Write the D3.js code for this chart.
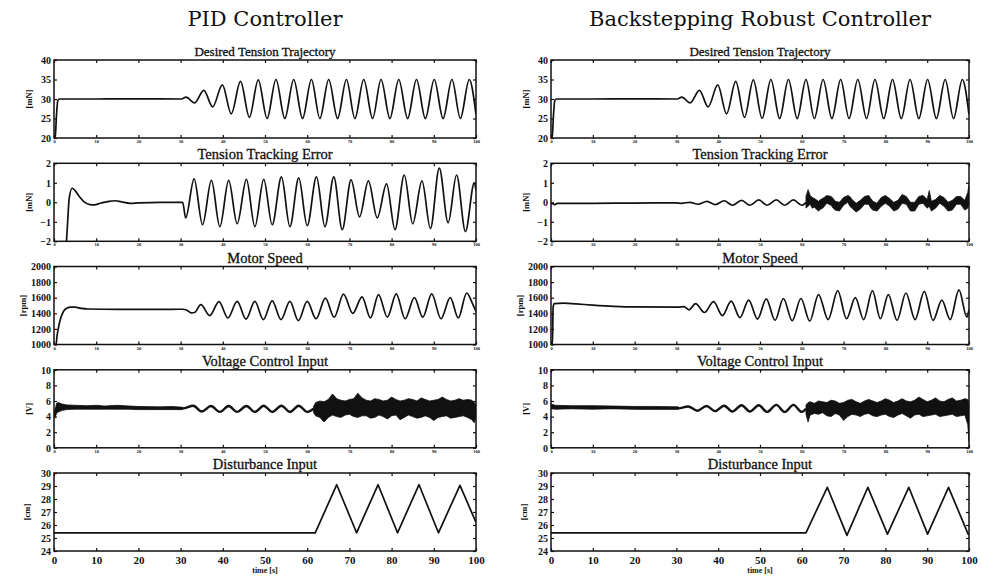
<!DOCTYPE html>
<html><head><meta charset="utf-8">
<script src="https://cdn.jsdelivr.net/npm/d3@7"></script>
<style>body{margin:0;background:#fff}svg{display:block}</style>
</head><body>
<svg id="c" width="982" height="579"></svg>
<script>
// ---------------- DATA ----------------
const columnTitles = ["PID Controller", "Backstepping Robust Controller"];
const panelTitles = ["Desired Tension Trajectory", "Tension Tracking Error", "Motor Speed", "Voltage Control Input", "Disturbance Input"];
const unitLabels = ["[mN]", "[mN]", "[rpm]", "[V]", "[cm]"];
const yDomains = [[20, 40], [-2, 2], [1000, 2000], [0, 10], [24, 30]];
const yTicks = [[20, 25, 30, 35, 40], [-2, -1, 0, 1, 2], [1000, 1200, 1400, 1600, 1800, 2000], [0, 2, 4, 6, 8, 10], [24, 25, 26, 27, 28, 29, 30]];
const xTicks = [0, 10, 20, 30, 40, 50, 60, 70, 80, 90, 100];
const xLabel = "time [s]";

// desired tension (same reference for both controllers) [t, mN]
const desiredTension = [[0,20],[0.3,20.5],[0.6,26],[0.9,29.6],[1.3,30],[10,30],[20,30.05],[30.2,30],[31.3,30.5],[33.3,29.0],[35.5,32.2],[37.6,28.0],[39.9,33.6],[42.0,26.2],[44.2,34.5],[46.3,25.3],[48.4,34.9],[50.5,25.0],[52.6,35],[54.7,25],[56.8,35],[58.9,25],[61.0,35],[63.0,25],[65.1,35],[67.2,25],[69.3,35],[71.3,25],[73.4,35],[75.5,25],[77.5,35],[79.6,25],[81.7,35],[83.8,25],[85.9,35],[88.0,25],[90.1,35],[92.2,25],[94.3,35],[96.3,25],[98.4,35],[100,26]];

// tension tracking error [t, mN]
const pidError = [[0,-2.6],[2.7,-2.6],[3.1,-1.5],[3.6,0.2],[4.3,0.72],[5.0,0.6],[6.0,0.3],[7.0,0.05],[8.5,-0.12],[9.5,-0.13],[11,-0.05],[13,0.05],[14.5,0.08],[16,0.02],[18,-0.05],[20,-0.03],[25,0.0],[30.5,0.0],[31.2,-0.8],[33.2,1.2],[35.2,-1.15],[37.3,1.12],[39.3,-1.25],[41.4,1.12],[43.4,-1.1],[45.6,1.18],[47.6,-1.25],[49.7,1.18],[51.7,-1.15],[53.9,1.3],[55.9,-1.25],[58.0,1.25],[60.0,-1.2],[62.2,1.3],[64.2,-1.25],[66.3,1.3],[68.3,-1.4],[70.4,1.15],[72.4,-0.75],[74.5,1.1],[76.6,-0.8],[78.8,0.95],[80.8,-1.4],[83.0,1.4],[85.0,-1.1],[87.2,1.1],[89.2,-1.35],[91.3,1.75],[93.4,-1.05],[95.4,1.4],[97.5,-1.5],[99.6,1.0],[100,0.6]];
const brcError = [[0,-0.1],[0.4,-0.05],[0.8,-0.12],[1.5,-0.05],[10,-0.05],[20,-0.04],[30,-0.03],[31.2,-0.05],[33.2,0.0],[35.2,-0.1],[37.3,0.05],[39.3,-0.12],[41.4,0.08],[43.4,-0.15],[45.6,0.1],[47.6,-0.15],[49.7,0.12],[51.7,-0.15],[53.9,0.12],[55.9,-0.15],[58.0,0.12],[60.0,-0.15],[61,0.0]];
// noisy envelope [t, low, high]
const brcErrorBand = [[61,-0.3,0.3],[61.5,-0.2,0.65],[62,-0.1,0.35],[62.5,-0.3,0.25],[63,-0.25,0.2],[64,-0.45,0.05],[64.5,-0.35,0.15],[65,-0.3,0.2],[66,-0.05,0.35],[67,-0.15,0.3],[67.5,-0.3,0.2],[68,-0.4,0.05],[69,-0.45,0.0],[70,-0.15,0.25],[71,0.0,0.35],[71.5,-0.2,0.3],[72,-0.3,0.15],[73,-0.5,-0.05],[74,-0.35,0.1],[75,-0.1,0.3],[76,-0.1,0.35],[76.5,-0.3,0.2],[77,-0.4,0.05],[78,-0.45,-0.05],[79,-0.2,0.25],[80,-0.05,0.35],[81,-0.2,0.2],[82,-0.45,0.0],[83,-0.35,0.1],[84,-0.05,0.4],[85,-0.1,0.3],[86,-0.45,0.0],[87,-0.45,0.0],[88,-0.1,0.3],[89,-0.05,0.35],[90,-0.3,0.15],[90.5,-0.2,0.6],[91,-0.45,0.05],[92,-0.3,0.15],[93,-0.05,0.35],[94,-0.2,0.25],[95,-0.45,0.0],[96,-0.4,0.1],[97,-0.1,0.3],[98,-0.1,0.3],[99,-0.4,0.1],[99.7,-0.3,0.5],[100,-0.1,0.9]];

// motor speed [t, rpm]
const pidSpeed = [[0,1000],[0.5,1000],[0.7,1100],[1.0,1200],[1.5,1320],[2.2,1420],[3.0,1465],[4.0,1480],[5.0,1478],[6.5,1462],[8,1455],[15,1450],[25,1450],[30.5,1452],[31.5,1440],[32.5,1405],[33.3,1410],[34.8,1510],[36.9,1370],[39.1,1550],[41.2,1340],[43.4,1552],[45.5,1325],[47.6,1552],[49.6,1320],[51.7,1560],[53.8,1320],[55.9,1552],[57.9,1305],[60.0,1552],[62.1,1330],[64.3,1595],[66.4,1350],[68.6,1645],[70.8,1400],[73.0,1610],[75.0,1340],[76.9,1640],[79.0,1350],[81.1,1648],[83.2,1330],[85.4,1600],[87.4,1350],[89.5,1648],[91.7,1330],[93.9,1600],[95.8,1340],[97.8,1660],[99.2,1520],[100,1420]];
const brcSpeed = [[0,1000],[0.35,1000],[0.5,1480],[0.8,1525],[3,1530],[6,1520],[10,1505],[15,1490],[20,1482],[30.5,1480],[31.8,1485],[33.0,1445],[34.6,1525],[36.7,1410],[38.9,1550],[41.0,1370],[43.1,1555],[45.2,1345],[47.3,1570],[49.4,1325],[51.5,1585],[53.6,1310],[55.6,1590],[57.7,1305],[59.8,1590],[61.9,1300],[64.0,1640],[66.3,1320],[68.6,1690],[70.7,1330],[72.8,1600],[74.8,1320],[76.9,1690],[78.8,1330],[80.7,1640],[82.8,1310],[84.9,1660],[87.1,1320],[89.3,1680],[91.4,1310],[93.5,1570],[95.5,1320],[97.6,1700],[99.5,1350],[100,1450]];

// voltage control input [t, V]
const pidVoltage = [[0,3.8],[0.2,4.3],[0.5,5.0],[1,5.2],[10,5.15],[20,5.1],[30.5,5.05],[33,5.4],[35,4.65],[37.2,5.35],[39.3,4.6],[41.4,5.35],[43.4,4.6],[45.6,5.35],[47.6,4.6],[49.7,5.4],[51.7,4.6],[53.9,5.4],[55.9,4.6],[58.0,5.4],[60.0,4.6],[61.5,5.0]];
const pidVoltageBand = [[0.3,4.0,4.9],[0.6,4.4,5.7],[1,4.6,5.8],[2,4.8,5.6],[3,4.9,5.5],[5,4.95,5.45],[8,4.95,5.4],[10,4.95,5.45],[12,4.95,5.35],[15,4.95,5.45],[18,4.95,5.35],[20,4.9,5.3],[25,4.9,5.25],[28,4.9,5.3],[30.5,4.9,5.2],[null,null,null],[61.5,4.5,5.3],[62,4.1,5.8],[63,3.9,6.0],[64,3.3,5.9],[65,3.9,6.2],[66,4.2,6.9],[67,4.0,6.3],[68,3.9,6.1],[69,4.2,6.0],[70,4.3,6.2],[71,4.0,6.3],[72,3.9,7.0],[73,4.1,6.4],[74,4.1,6.1],[75,3.8,6.0],[76,3.9,6.3],[77,4.2,6.2],[78,4.0,6.0],[79,3.7,6.1],[80,4.1,6.5],[81,4.2,6.2],[82,3.6,6.0],[83,3.9,6.1],[84,4.2,6.3],[85,4.0,6.2],[86,3.8,6.0],[87,3.9,6.4],[88,4.1,6.2],[89,3.9,6.0],[90,3.5,6.1],[91,3.9,6.2],[92,4.0,6.5],[93,4.1,6.2],[94,3.8,6.0],[95,3.9,6.1],[96,4.0,6.3],[97,4.1,6.1],[98,3.9,6.2],[99,3.6,6.1],[99.6,3.2,5.8],[100,4.0,5.5]];
const brcVoltage = [[0,5.5],[0.3,5.3],[1,5.2],[10,5.15],[20,5.1],[30.5,5.05],[32.8,5.3],[35,4.75],[37.2,5.35],[39.3,4.7],[41.4,5.4],[43.4,4.65],[45.6,5.45],[47.6,4.65],[49.7,5.45],[51.7,4.6],[53.9,5.5],[55.9,4.6],[58.0,5.5],[60.0,4.6],[61,5.0]];
const brcVoltageBand = [[0,5.0,5.6],[1,4.95,5.45],[5,5.0,5.4],[10,4.95,5.4],[15,5.0,5.35],[20,4.95,5.3],[25,4.95,5.3],[30.5,4.95,5.25],[null,null,null],[61,4.3,5.5],[61.5,3.3,5.8],[62,4.2,5.9],[63,4.4,5.7],[64,4.3,6.0],[65,4.5,5.9],[66,4.1,5.8],[67,4.0,6.1],[68,4.4,6.0],[69,4.2,5.7],[70,3.5,5.8],[71,4.0,6.1],[72,4.3,6.2],[73,4.2,5.9],[74,4.0,5.7],[75,4.3,6.0],[76,4.4,6.2],[77,4.1,6.0],[78,4.0,5.8],[79,4.2,6.0],[80,4.3,6.3],[81,4.0,6.1],[82,3.9,5.8],[83,4.2,6.0],[84,4.4,6.3],[85,4.1,6.0],[86,3.8,5.9],[87,4.2,6.1],[88,4.3,6.5],[89,4.0,6.2],[90,4.1,5.9],[91,4.2,6.1],[92,4.3,6.4],[93,4.0,6.0],[94,4.1,5.9],[95,4.2,6.2],[96,4.3,6.4],[97,4.0,6.0],[98,4.1,6.1],[99,4.2,6.3],[99.7,3.0,6.2],[100,0.8,5.5]];

// disturbance input [t, cm]
const pidDisturbance = [[0,25.4],[61.9,25.4],[67.0,29.1],[71.7,25.4],[76.8,29.1],[81.4,25.4],[86.5,29.1],[91.1,25.4],[96.2,29.05],[100,26.2]];
const brcDisturbance = [[0,25.4],[61.0,25.4],[66.1,28.9],[70.8,25.2],[75.8,28.9],[80.5,25.3],[85.6,28.9],[90.1,25.3],[95.1,28.9],[99.8,25.3],[100,25.3]];

// table of panels built from the arrays above
const columns = [
  [{line: desiredTension, curve: true}, {line: pidError, curve: true}, {line: pidSpeed, curve: true}, {line: pidVoltage, band: pidVoltageBand, curve: true, thick: true}, {line: pidDisturbance}],
  [{line: desiredTension, curve: true}, {line: brcError, band: brcErrorBand, curve: true}, {line: brcSpeed, curve: true}, {line: brcVoltage, band: brcVoltageBand, curve: true, thick: true}, {line: brcDisturbance}]
];

// ---------------- LAYOUT ----------------
const svg = d3.select("#c");
const colX = [[54, 476], [551, 969]];
const rowTop = [60, 163.3, 266.5, 369.8, 473];
const unitOffset = [22, 22, 28, 22, 24];
const H = 78;
const serif = "'Liberation Serif', 'Times New Roman', serif";

columns.forEach((panels, ci) => {
  const x = d3.scaleLinear().domain([0, 100]).range(colX[ci]);
  const cx = (colX[ci][0] + colX[ci][1]) / 2;
  svg.append("text").attr("x", cx).attr("y", 26)
    .attr("text-anchor", "middle").attr("font-family", "'DejaVu Serif', serif")
    .attr("font-size", 21).attr("fill", "#111").text(columnTitles[ci]);

  panels.forEach((p, ri) => {
    const top = rowTop[ri], bot = top + H;
    const y = d3.scaleLinear().domain(yDomains[ri]).range([bot, top]);
    const g = svg.append("g");
    const clipId = `clip-${ci}-${ri}`;
    svg.append("defs").append("clipPath").attr("id", clipId)
      .append("rect").attr("x", colX[ci][0]).attr("y", top).attr("width", colX[ci][1] - colX[ci][0]).attr("height", H);

    // title
    g.append("text").attr("x", cx).attr("y", top - 4).attr("text-anchor", "middle")
      .attr("font-family", serif).attr("font-size", ri === 0 ? 13 : 14.5)
      .attr("fill", "#111").attr("stroke", "#111").attr("stroke-width", 0.3)
      .text(panelTitles[ri]);

    // unit label
    g.append("text").attr("transform", `translate(${colX[ci][0] - unitOffset[ri]},${top + H / 2}) rotate(-90)`)
      .attr("text-anchor", "middle").attr("font-family", serif).attr("font-weight", "bold")
      .attr("font-size", 8.5).attr("fill", "#111").text(unitLabels[ri]);

    // data
    const dg = g.append("g").attr("clip-path", `url(#${clipId})`);
    if (p.band) {
      const area = d3.area().defined(d => d[0] !== null)
        .x(d => x(d[0])).y0(d => y(d[1])).y1(d => y(d[2]));
      dg.append("path").attr("d", area(p.band)).attr("fill", "#111").attr("stroke", "#111").attr("stroke-width", 0.8);
    }
    const line = d3.line().x(d => x(d[0])).y(d => y(d[1]))
      .curve(p.curve ? d3.curveMonotoneX : d3.curveLinear);
    dg.append("path").attr("d", line(p.line)).attr("fill", "none")
      .attr("stroke", "#111").attr("stroke-width", p.thick ? 2.4 : 1.7).attr("stroke-linejoin", "round");

    // axes
    const isBottom = ri === 4;
    const axB = g.append("g").attr("transform", `translate(0,${bot})`)
      .call(d3.axisBottom(x).tickValues(xTicks).tickSize(-3).tickPadding(isBottom ? 5 : 2).tickFormat(d3.format("d")));
    axB.selectAll("text").attr("font-family", serif).attr("font-weight", "bold")
      .attr("font-size", isBottom ? 11 : 4.5).attr("fill", "#111");
    const axT = g.append("g").attr("transform", `translate(0,${top})`)
      .call(d3.axisTop(x).tickValues(xTicks).tickSize(-3).tickFormat(""));
    const axL = g.append("g").attr("transform", `translate(${colX[ci][0]},0)`)
      .call(d3.axisLeft(y).tickValues(yTicks[ri]).tickSize(-3).tickPadding(3).tickFormat(d3.format("d")));
    axL.selectAll("text").attr("font-family", serif).attr("font-weight", "bold")
      .attr("font-size", 10).attr("fill", "#111");
    const axR = g.append("g").attr("transform", `translate(${colX[ci][1]},0)`)
      .call(d3.axisRight(y).tickValues(yTicks[ri]).tickSize(-3).tickFormat(""));
    [axB, axT, axL, axR].forEach(a => {
      a.select(".domain").remove();
      a.selectAll("line").attr("stroke", "#111").attr("stroke-width", 1.2);
    });
    // frame
    g.append("rect").attr("x", colX[ci][0]).attr("y", top)
      .attr("width", colX[ci][1] - colX[ci][0]).attr("height", H)
      .attr("fill", "none").attr("stroke", "#111").attr("stroke-width", 1.5);

    if (isBottom) {
      g.append("text").attr("x", cx).attr("y", bot + 22).attr("text-anchor", "middle")
        .attr("font-family", serif).attr("font-weight", "bold").attr("font-size", 8)
        .attr("fill", "#111").text(xLabel);
    }
  });
});
</script>
</body></html>
